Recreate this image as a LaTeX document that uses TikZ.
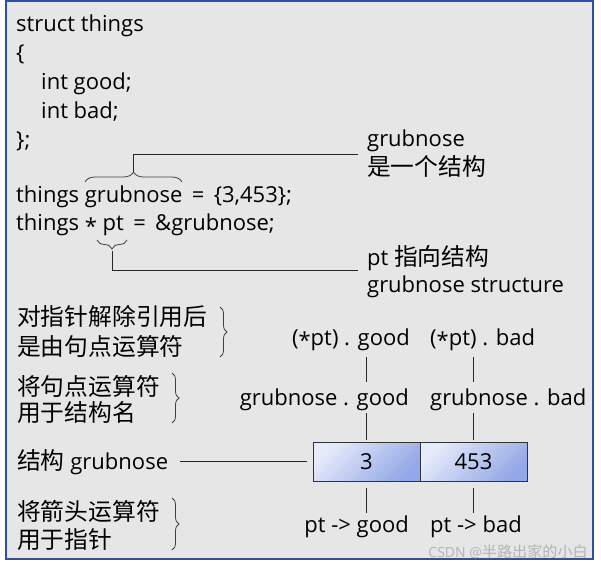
\documentclass[tikz,border=0pt]{standalone}
\usepackage{fontspec}
\setmainfont{Open Sans}
\newfontfamily\cjk[Scale=1.08]{Noto Sans CJK SC}
\usetikzlibrary{positioning,decorations.pathreplacing}

\definecolor{panelgray}{HTML}{E6E6E6}
\definecolor{panelblue}{HTML}{2F4F9C}
\definecolor{celllight}{HTML}{E6EBFB}
\definecolor{celldark}{HTML}{93A8E6}
\definecolor{markgray}{HTML}{B4B4B4}

\newcommand{\ster}{\raisebox{-0.3ex}{*}}

\tikzset{
  txt/.style={anchor=base west, inner sep=0pt, font=\fontsize{22}{29}\selectfont},
  rtxt/.style={txt, anchor=base east},
  link/.style={line width=1pt, black!85},
  brc/.style={line width=0.8pt, black!75, decorate, decoration={brace, amplitude=#1}},
  cell/.style={draw=black!80, line width=1pt, minimum width=107pt, minimum height=39pt,
    inner sep=0pt, top color=celllight, bottom color=celldark, shading angle=45,
    font=\fontsize{22}{29}\selectfont}
}

\begin{document}
\begin{tikzpicture}[x=1pt, y=-1pt]

  % achtergrond
  \useasboundingbox (0,0) rectangle (601,569);
  \draw[fill=panelgray, draw=panelblue, line width=2pt] (6,1.5) rectangle (593,559);

  % structdeclaratie
  \node[txt] (l1) at (16,31.5) {struct things};
  \node[txt] (l2) at (16,60.5) {\{};
  \node[txt] (l3) at (41,90) {int good;};
  \node[txt] (l4) at (41,118.5) {int bad;};
  \node[txt] (l5) at (16,147.5) {\};};
  \node[txt] (l6) at (16,203) {things grubnose \,=\, \{3,453\};};
  \node[txt] (l7) at (16,230.5) {things \ster{} pt \,=\, \&grubnose;};

  % accolades boven grubnose en onder pt
  \draw[brc=10pt] (85,182) -- (182,182);
  \coordinate (gstip) at (133.5,172);
  \draw[brc=9pt] (127,240) -- (97,240);
  \coordinate (pttip) at (112,251);

  % toelichting rechts
  \node[txt] (gsnote) at (367,147) {grubnose};
  \node[txt] (gsnote2) at (367,176) {\cjk 是一个结构};
  \node[txt] (ptnote) at (367,265) {pt {\cjk 指向结构}};
  \node[txt] (ptnote2) at (367,292) {grubnose structure};

  \draw[link] (gstip) |- ([xshift=-9pt, yshift=-8pt]gsnote.base west);
  \draw[link] (pttip) |- ([xshift=-9pt, yshift=-5pt]ptnote.base west);

  % labels links
  \node[txt] (deref1) at (17,325) {\cjk 对指针解除引用后};
  \node[txt] (deref2) at (17,355) {\cjk 是由句点运算符};
  \node[txt] (dot1) at (17,395) {\cjk 将句点运算符};
  \node[txt] (dot2) at (17,421) {\cjk 用于结构名};
  \node[txt] (sname) at (17,469) {{\cjk 结构} grubnose};
  \node[txt] (arrow1) at (17,520) {\cjk 将箭头运算符};
  \node[txt] (arrow2) at (17,548) {\cjk 用于指针};

  \draw[brc=7pt] (220,307) -- (220,357);
  \draw[brc=7pt] (172,373) -- (172,423);
  \draw[brc=7pt] (172,498) -- (172,550);

  % de structuur in het geheugen
  \node[cell] (cgood) at (366.5,461.5) {3};
  \node[cell] (cbad) at (473.5,461.5) {453};
  \draw[link] ([xshift=12pt, yshift=7.5pt]sname.base east) -- ([xshift=-6pt]cgood.west);

  % toegangsvormen
  \node[rtxt] (pgood) at (410,345) {(\ster pt) . good};
  \node[txt] (pbad) at (430,345) {(\ster pt) . bad};
  \node[rtxt] (ggood) at (409,405) {grubnose . good};
  \node[txt] (gbad) at (430,405) {grubnose . bad};
  \node[rtxt] (agood) at (409,532) {pt -> good};
  \node[txt] (abad) at (430,532) {pt -> bad};

  \draw[link] (cgood.north |- 0,357) -- (cgood.north |- 0,382);
  \draw[link] (cbad.north |- 0,357) -- (cbad.north |- 0,382);
  \draw[link] (cgood.north |- 0,413) -- ([yshift=2pt]cgood.north);
  \draw[link] (cbad.north |- 0,413) -- ([yshift=2pt]cbad.north);
  \draw[link] ([yshift=-6pt]cgood.south) -- (cgood.south |- 0,513);
  \draw[link] ([yshift=-6pt]cbad.south) -- (cbad.south |- 0,513);

  % watermerk
  \node[anchor=base east, inner sep=0pt, text=markgray, font=\fontsize{14}{16}\selectfont]
    (mark) at (588,557) {CSDN @{\cjk 半路出家的小白}};

\end{tikzpicture}
\end{document}
